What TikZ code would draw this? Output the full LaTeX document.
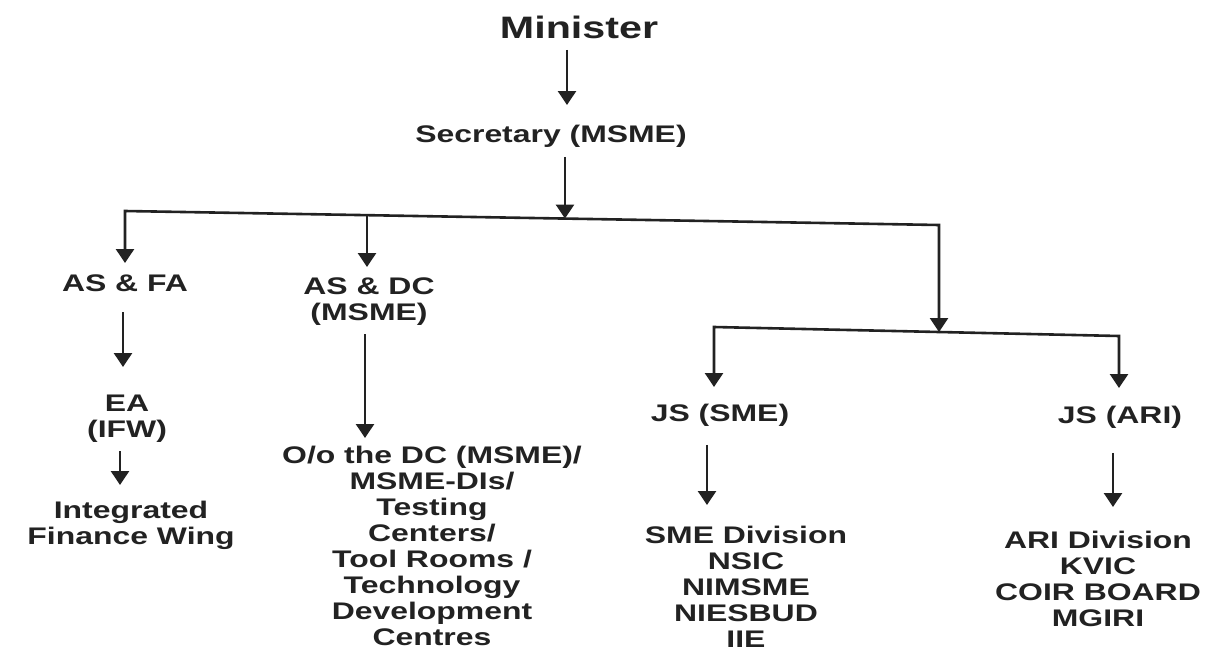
\documentclass[tikz,border=0pt]{standalone}
\usepackage{fontspec}
\setmainfont{Liberation Sans}[FakeStretch=1.33,UprightFont=* Bold]
\usetikzlibrary{arrows.meta,calc}
\definecolor{ink}{HTML}{222222}
\begin{document}
\begin{tikzpicture}[x=1pt,y=-1pt,
  lbl/.style={inner sep=0pt, outer sep=0pt, anchor=north, align=center, text=ink, font=\fontsize{24}{26}\selectfont},
  conn/.style={draw=ink, line width=2.6pt, line join=miter, -{Triangle[width=18pt,length=14pt]}}]
\useasboundingbox (0,0) rectangle (1221,656);
\fill[white] (0,0) rectangle (1221,656);

% nodes
\node[lbl, font=\fontsize{31}{34}\selectfont] (min) at (579,16) {Minister};
\node[lbl] (sec) at (551,125.5) {Secretary (MSME)};
\node[lbl] (asfa) at (125,274.5) {AS \& FA};
\node[lbl] (asdc) at (369,278) {AS \& DC\\(MSME)};
\node[lbl] (ea) at (127,394.5) {EA\\(IFW)};
\node[lbl] (ifw) at (131,501.5) {Integrated\\Finance Wing};
\node[lbl] (dc) at (432,446.5) {O/o the DC (MSME)/\\MSME-DIs/\\Testing\\Centers/\\Tool Rooms /\\Technology\\Development\\Centres};
\node[lbl] (jss) at (720,404.5) {JS (SME)};
\node[lbl] (sme) at (746,526.5) {SME Division\\NSIC\\NIMSME\\NIESBUD\\IIE};
\node[lbl] (jsa) at (1120,406.5) {JS (ARI)};
\node[lbl] (ari) at (1098,531.5) {ARI Division\\KVIC\\COIR BOARD\\MGIRI};

% junction coordinates
\coordinate (tl) at (125,211);
\coordinate (tr) at (939,225);
\coordinate (sj) at ($(tl)!0.5405!(tr)$);
\coordinate (b2) at ($(tl)!0.2973!(tr)$);
\coordinate (ll) at (714,327);
\coordinate (lr) at (1119,336);
\coordinate (lj) at ($(ll)!0.5556!(lr)$);

% connectors
\draw[conn, shorten <=11pt, shorten >=20.5pt] (min.south -| 567,0) -- (sec.north -| 567,0);
\draw[conn, shorten <=9pt] (sec.south -| sj) -- (sj);
\draw[conn, shorten >=11.5pt] (sj) -- (tl) -- (asfa.north -| tl);
\draw[conn] (sj) -- (tr) -- (lj);
\draw[conn, shorten >=11pt] (b2) -- (asdc.north -| b2);
\draw[conn, shorten <=21pt, shorten >=27.5pt] (asfa.south -| 123,0) -- (ea.north -| 123,0);
\draw[conn, shorten <=9.3pt, shorten >=16.5pt] (ea.south -| 120,0) -- (ifw.north -| 120,0);
\draw[conn, shorten <=8.5pt, shorten >=8.5pt] (asdc.south -| 365,0) -- (dc.north -| 365,0);
\draw[conn, shorten >=17.5pt] (lj) -- (ll) -- (jss.north -| ll);
\draw[conn, shorten >=18.5pt] (lj) -- (lr) -- (jsa.north -| lr);
\draw[conn, shorten <=18pt, shorten >=21.5pt] (jss.south -| 707,0) -- (sme.north -| 707,0);
\draw[conn, shorten <=24pt, shorten >=24.5pt] (jsa.south -| 1113,0) -- (ari.north -| 1113,0);
\end{tikzpicture}
\end{document}
